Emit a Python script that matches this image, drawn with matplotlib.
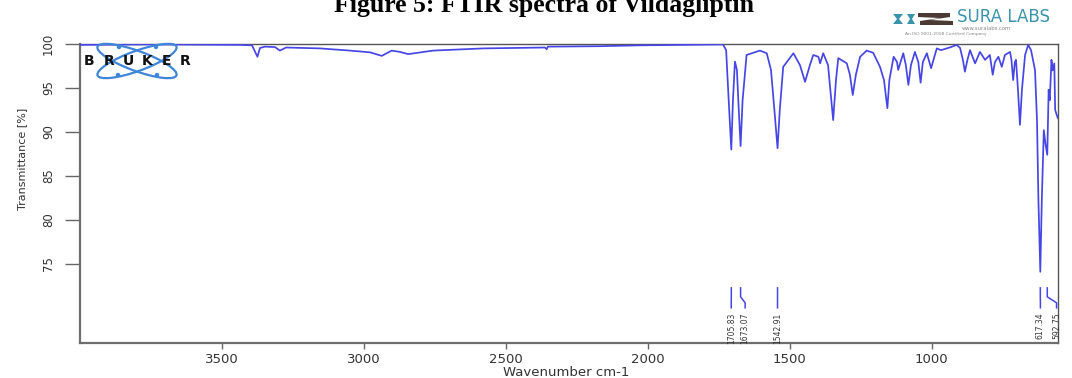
import matplotlib
matplotlib.use("Agg")
import matplotlib.pyplot as plt
from matplotlib.patches import Ellipse, Circle, Polygon
from matplotlib.transforms import IdentityTransform

# ---- spectrum data (wavenumber in cm-1, transmittance in %) ----
wavenumber = [
    4000, 3753, 3436, 3394, 3375, 3366, 3348, 3313, 3296, 3274, 3155, 3049,
    2978, 2937, 2902, 2873, 2844, 2756, 2579, 2362, 2356, 2352, 2168, 2027,
    1876, 1735, 1724, 1715, 1705.83, 1700, 1693, 1686, 1681, 1673.07, 1666,
    1652, 1605, 1581, 1566, 1554, 1542.91, 1535, 1523, 1487, 1464, 1446,
    1429, 1417, 1399, 1393, 1382, 1365, 1347, 1337, 1329, 1299, 1288, 1278,
    1267, 1252, 1229, 1206, 1182, 1168, 1156, 1149, 1134, 1122, 1118, 1100,
    1091, 1082, 1073, 1059, 1047, 1039, 1031, 1017, 1002, 982, 967, 947, 932,
    912, 900, 890, 883, 874, 865, 847, 830, 812, 795, 785, 777, 765, 753, 742,
    724, 719, 713, 707, 703, 696, 689, 682, 671, 660, 650, 636, 629, 624,
    617.34, 612, 605, 599, 592.75, 588, 584, 578, 574, 568, 565, 556,
]
transmittance = [
    99.9, 99.95, 99.9, 99.85, 98.55, 99.55, 99.7, 99.65, 99.25, 99.6, 99.5,
    99.25, 99.05, 98.65, 99.25, 99.1, 98.85, 99.25, 99.5, 99.6, 99.4, 99.7,
    99.75, 99.85, 99.9, 99.95, 99.3, 93.6, 88.0, 93.6, 98.0, 97.05, 93.5,
    88.4, 93.6, 98.75, 99.25, 98.95, 97.05, 92.5, 88.15, 92.5, 97.4, 98.95,
    97.6, 95.7, 97.6, 98.75, 98.55, 97.8, 98.95, 97.6, 91.35, 95.9, 98.4,
    97.8, 96.5, 94.2, 96.5, 98.55, 99.25, 99.0, 97.4, 95.9, 92.7, 95.9, 98.55,
    97.95, 97.05, 98.95, 97.6, 95.35, 97.6, 99.1, 97.95, 95.6, 97.95, 98.95,
    97.25, 99.5, 99.3, 99.5, 99.65, 99.9, 99.55, 98.2, 96.85, 98.2, 99.3,
    97.8, 99.1, 98.2, 98.75, 96.5, 97.95, 98.55, 97.4, 98.75, 99.1, 98.2,
    95.9, 97.95, 98.2, 94.8, 90.8, 94.8, 98.75, 99.9, 99.3, 97.05, 91.35,
    82.3, 74.1, 82.3, 90.2, 88.6, 87.4, 94.8, 93.6, 98.2, 97.0, 97.8, 92.5,
    91.6,
]

# ---- annotated peaks ----
peak_wavenumbers = [1705.83, 1673.07, 1542.91, 617.34, 592.75]
peak_labels = ["1705.83", "1673.07", "1542.91", "617.34", "592.75"]
# where each rotated label sits (lines bend over to it when crowded)
peak_label_pos = [1706, 1657, 1543, 617, 560]

x_ticks = [3500, 3000, 2500, 2000, 1500, 1000]
y_ticks = [75, 80, 85, 90, 95, 100]

W, H = 1072, 378
fig = plt.figure(figsize=(W / 100, H / 100), dpi=100)
fig.patch.set_facecolor("white")

ax_l, ax_r, ax_t, ax_b = 80, 1058, 44, 343
ax = fig.add_axes([ax_l / W, 1 - ax_b / H, (ax_r - ax_l) / W, (ax_b - ax_t) / H])

line_color = "#4646e6"
ax.plot(wavenumber, transmittance, color=line_color, lw=1.25, zorder=3)

ax.set_xlim(4000, 555)
ax.set_ylim(66, 100)

font = "DejaVu Sans"

# peak markers: short vertical ticks with rotated labels below them
y_top, y_k1, y_k2, y_bot, y_txt = 72.27, 71.25, 70.57, 70.0, 69.43
for wn, pos, lab in zip(peak_wavenumbers, peak_label_pos, peak_labels):
    ax.plot([wn, wn, pos, pos], [y_top, y_k1, y_k2, y_bot],
            color=line_color, lw=1.1, zorder=3)
    ax.text(pos, y_txt, lab, rotation=90, ha="center", va="top",
            fontsize=5.5, family=font, color="#333333")

for side in ["left", "bottom"]:
    ax.spines[side].set_color("#6e6e6e")
    ax.spines[side].set_linewidth(1.6)
for side in ["top", "right"]:
    ax.spines[side].set_color("#555555")
    ax.spines[side].set_linewidth(1.0)

ax.set_xticks(x_ticks)
ax.set_xticklabels([str(v) for v in x_ticks])
ax.set_yticks(y_ticks)
ax.set_yticklabels([str(v) for v in y_ticks])
ax.tick_params(axis="x", length=4, width=1, color="#666666", pad=3,
               labelsize=9.5, labelcolor="#333333")
ax.tick_params(axis="y", length=11, width=1, color="#666666", pad=7,
               labelsize=8.5, labelcolor="#333333", labelrotation=90)
for lab in ax.get_yticklabels():
    lab.set_verticalalignment("center")
    lab.set_family(font)
for lab in ax.get_xticklabels():
    lab.set_family(font)

fig.text(566 / W, 1 - 373 / H, "Wavenumber cm-1", ha="center", va="center",
         fontsize=9.5, family=font, color="#333333")
fig.text(22 / W, 1 - 159 / H, "Transmittance [%]", rotation=90, ha="center",
         va="center", fontsize=8, family=font, color="#333333")

# title, partly above the top edge
fig.text(544 / W, 1 - 12 / H, "Figure 5: FTIR spectra of Vildagliptin",
         ha="center", va="baseline", fontsize=18.5, family="Liberation Serif",
         fontweight="bold", color="black")

# ---- BRUKER logo (pixel coordinates) ----
ident = IdentityTransform()


def px(x, y):
    return (x, H - y)


logo_blue = "#3f86da"
for ang in (20, -20):
    fig.patches.append(Ellipse(px(137, 61), 84, 20, angle=ang, fill=False,
                               ec=logo_blue, lw=1.6, transform=ident,
                               figure=fig, zorder=5))
for cx, cy in [(119, 47), (118, 75), (156, 47), (157, 75)]:
    fig.patches.append(Circle(px(cx, cy), 2.2, fc=logo_blue, ec="none",
                              transform=ident, figure=fig, zorder=5))
for i, ch in enumerate("BRUKER"):
    fig.text((89.5 + 19.2 * i) / W, 1 - 61 / H, ch, ha="center", va="center",
             fontsize=10, fontweight="bold", family=font,
             color="#111111", zorder=6)

# ---- SURA LABS logo ----
teal = "#3a93ad"
brown = "#4a3a33"
fig.patches.append(Polygon([px(893, 14), px(903, 14), px(899, 19), px(903, 24),
                            px(893, 24), px(897, 19)], closed=True, fc=teal,
                           ec="none", transform=ident, figure=fig, zorder=5))
fig.patches.append(Polygon([px(907, 14), px(915, 14), px(912, 19), px(915, 24),
                            px(907, 24), px(910, 19)], closed=True, fc=teal,
                           ec="none", transform=ident, figure=fig, zorder=5))
fig.patches.append(Polygon([px(918, 13), px(950, 13), px(950, 17), px(930, 20),
                            px(953, 21), px(953, 25), px(920, 25), px(920, 21),
                            px(940, 18), px(918, 17)], closed=True, fc=brown,
                           ec="none", transform=ident, figure=fig, zorder=5))
fig.text(957 / W, 1 - 17.5 / H, "SURA LABS", ha="left", va="center",
         fontsize=12, family=font, color=teal)
fig.text(962 / W, 1 - 28.5 / H, "www.suralabs.com", ha="left", va="center",
         fontsize=3.8, family=font, color="#888888")
fig.text(905 / W, 1 - 33.5 / H, "An ISO 9001:2008 Certified Company",
         ha="left", va="center", fontsize=3.2, family=font,
         color="#888888")

fig.savefig("out.png", dpi=100, facecolor="white")
